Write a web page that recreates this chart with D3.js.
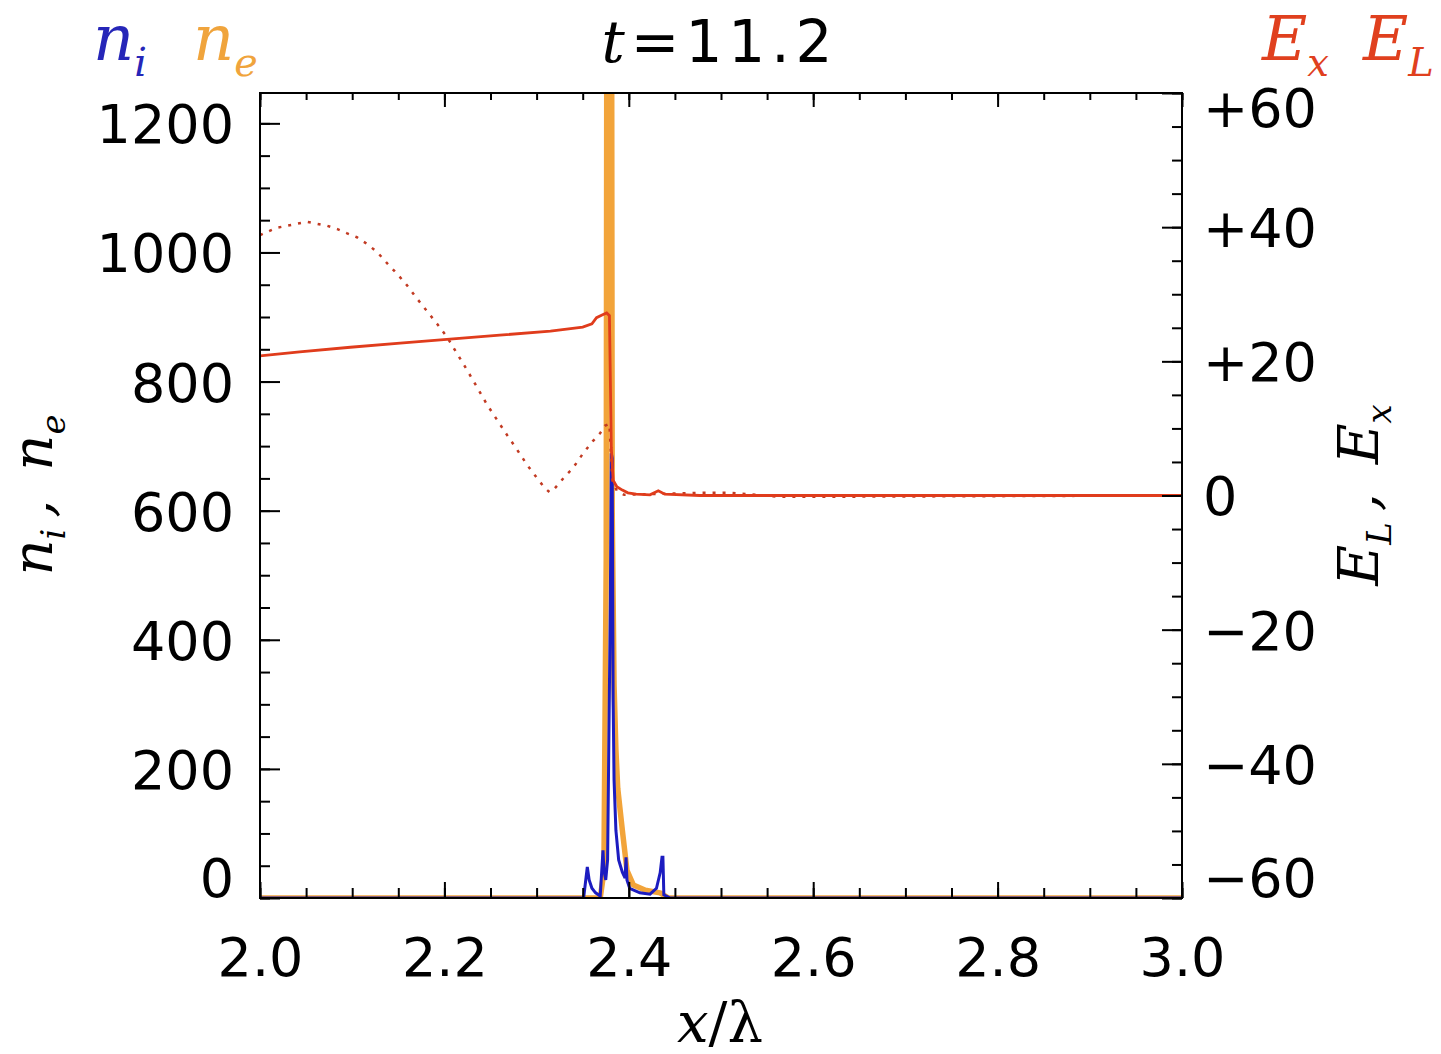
<!DOCTYPE html>
<html><head><meta charset="utf-8">
<script src="https://cdn.jsdelivr.net/npm/d3@7"></script>
<style>
body{margin:0;background:#fff;}
svg{display:block;}
.num{font-family:"DejaVu Sans",sans-serif;font-size:54px;fill:#000;}
.mi{font-family:"DejaVu Serif",serif;font-style:italic;}
</style></head>
<body>
<script>
// ---- data ----
const xDomain = [2.0, 3.0];
const nDomain = [0, 1247];
const eDomain = [-60, 60];
const xTicks = [2.0, 2.2, 2.4, 2.6, 2.8, 3.0];
const nTicks = [0, 200, 400, 600, 800, 1000, 1200];
const eTicks = [-60, -40, -20, 0, 20, 40, 60];
const eTickLabels = ["\u221260", "\u221240", "\u221220", "0", "+20", "+40", "+60"];

// E_x (solid)
const exX = [2.000,2.043,2.098,2.152,2.206,2.260,2.315,2.350,2.360,2.365,2.371,2.376,2.379,2.380,2.381,2.383,2.387,2.393,2.399,2.408,2.423,2.432,2.439,2.477,3.000];
const exV = [20.8,21.4,22.1,22.7,23.3,23.9,24.5,25.1,25.6,26.5,26.9,27.2,26.8,17.2,7.2,2.3,1.3,0.8,0.4,0.2,0.1,0.7,0.2,0,0];

// E_L (dotted)
const elX = [2.000,2.008,2.018,2.029,2.040,2.051,2.062,2.073,2.084,2.094,2.105,2.116,2.127,2.138,2.149,2.159,2.170,2.181,2.192,2.203,2.214,2.225,2.236,2.246,2.257,2.268,2.279,2.290,2.301,2.309,2.314,2.318,2.325,2.331,2.339,2.344,2.350,2.361,2.369,2.374,2.379,2.382,2.387,2.395,2.423,2.477,2.510,2.564,2.586,3.000];
const elV = [38.8,39.3,39.9,40.2,40.5,40.8,40.5,40.2,39.7,39.1,38.5,37.5,36.3,34.6,33.0,31.4,29.4,27.5,25.6,23.6,21.1,18.6,16.0,13.6,11.3,9.0,6.8,4.5,2.5,1.1,0.5,0.8,1.9,2.9,4.0,5.0,6.2,8.1,9.3,10.4,10.7,2.3,0.7,0.1,0.2,0.4,0.4,-0.2,-0.2,0];

// n_e (orange)
const neX = [2.000,2.369,2.373,2.3755,2.377,2.3805,2.382,2.384,2.386,2.388,2.393,2.398,2.405,2.418,2.434,2.443,3.000];
const neV = [0,0,40,523,2500,2500,600,330,230,170,105,43,20,12,8,0,0];

// n_i (blue)
const niX = [2.000,2.351,2.355,2.357,2.360,2.364,2.369,2.372,2.373,2.375,2.377,2.380,2.381,2.382,2.383,2.384,2.386,2.389,2.393,2.396,2.397,2.398,2.401,2.412,2.423,2.430,2.434,2.436,2.437,2.438,2.445,3.000];
const niV = [0,0,48,28,15,8,3,74,43,28,59,461,689,681,307,183,105,59,40,31,63,28,15,8,6,15,39,63,63,5,0,0];

// ---- layout ----
const W = 1441, H = 1054;
const L = 260, R = 1182, T = 93, B = 898;

const svg = d3.select("body").append("svg").attr("width", W).attr("height", H);

const x = d3.scaleLinear().domain(xDomain).range([L, R]);
const yN = d3.scaleLinear().domain(nDomain).range([B, T]);
const yE = d3.scaleLinear().domain(eDomain).range([B, T]);

svg.append("defs").append("clipPath").attr("id", "clip")
  .append("rect").attr("x", L).attr("y", T).attr("width", R - L).attr("height", B - T);

const plot = svg.append("g").attr("clip-path", "url(#clip)");

const lineN = d3.line().x(d => x(d[0])).y(d => yN(d[1]));
const lineE = d3.line().x(d => x(d[0])).y(d => yE(d[1]));

plot.append("path").datum(d3.zip(neX, neV)).attr("d", lineN)
  .attr("fill", "none").attr("stroke", "#f2a43a").attr("stroke-width", 5.5).attr("stroke-linejoin", "round");
plot.append("path").datum(d3.zip(niX, niV)).attr("d", lineN)
  .attr("fill", "none").attr("stroke", "#1c1cc0").attr("stroke-width", 3);
plot.append("path").datum(d3.zip(elX, elV)).attr("d", lineE)
  .attr("fill", "none").attr("stroke", "#c23a22").attr("stroke-width", 2.5).attr("stroke-dasharray", "3,7");
plot.append("path").datum(d3.zip(exX, exV)).attr("d", lineE)
  .attr("fill", "none").attr("stroke", "#e03c1c").attr("stroke-width", 2.8);

// ---- axes ----
function minorTicks(lo, hi, step) { const a = []; for (let v = lo; v <= hi + 1e-9; v += step) a.push(+v.toFixed(4)); return a; }
const xMinor = minorTicks(2.0, 3.0, 0.05);
const nMinor = minorTicks(0, 1200, 50);
const eMinor = minorTicks(-60, 60, 5);

function styleAxis(g) { g.select(".domain").remove(); g.selectAll("line").attr("stroke", "#000").attr("stroke-width", 2); }

// bottom
svg.append("g").attr("transform", `translate(0,${B})`)
  .call(d3.axisBottom(x).tickValues(xMinor).tickSize(-10).tickFormat("")).call(styleAxis);
const gxb = svg.append("g").attr("transform", `translate(0,${B})`)
  .call(d3.axisBottom(x).tickValues(xTicks).tickSize(-16).tickPadding(40).tickFormat(d3.format(".1f"))).call(styleAxis);
gxb.selectAll("text").attr("class", "num").attr("font-size", null).attr("font-family", null);
// top
svg.append("g").attr("transform", `translate(0,${T})`)
  .call(d3.axisTop(x).tickValues(xMinor).tickSize(-7).tickFormat("")).call(styleAxis);
svg.append("g").attr("transform", `translate(0,${T})`)
  .call(d3.axisTop(x).tickValues(xTicks).tickSize(-14).tickFormat("")).call(styleAxis);
// left
svg.append("g").attr("transform", `translate(${L},0)`)
  .call(d3.axisLeft(yN).tickValues(nMinor).tickSize(-10).tickFormat("")).call(styleAxis);
const gyl = svg.append("g").attr("transform", `translate(${L},0)`)
  .call(d3.axisLeft(yN).tickValues(nTicks).tickSize(-20).tickPadding(26).tickFormat(d3.format("d"))).call(styleAxis);
gyl.selectAll("text").attr("class", "num").attr("font-size", null).attr("font-family", null)
  .attr("dy", d => d === 0 ? "-0.02em" : "0.36em");
// right
svg.append("g").attr("transform", `translate(${R},0)`)
  .call(d3.axisRight(yE).tickValues(eMinor).tickSize(-10).tickFormat("")).call(styleAxis);
const gyr = svg.append("g").attr("transform", `translate(${R},0)`)
  .call(d3.axisRight(yE).tickValues(eTicks).tickSize(-20).tickPadding(21).tickFormat((d, i) => eTickLabels[i])).call(styleAxis);
gyr.selectAll("text").attr("class", "num").attr("font-size", null).attr("font-family", null)
  .attr("dy", d => d === 60 ? "0.62em" : d === -60 ? "-0.02em" : "0.36em");

// frame
svg.append("rect").attr("x", L).attr("y", T).attr("width", R - L).attr("height", B - T)
  .attr("fill", "none").attr("stroke", "#000").attr("stroke-width", 2);

// ---- texts ----
const title = svg.append("text").attr("x", 720).attr("y", 62).attr("text-anchor", "middle")
  .attr("font-family", "DejaVu Sans").attr("font-size", 58).attr("letter-spacing", 6).attr("fill", "#000");
title.append("tspan").attr("class", "mi").text("t");
title.append("tspan").text("=11.2");

function sub(g, x0, y0, base, s, color, size) {
  const t = g.append("text").attr("x", x0).attr("y", y0).attr("fill", color)
    .attr("font-family", "DejaVu Serif").attr("font-style", "italic").attr("font-size", size);
  t.append("tspan").text(base);
  t.append("tspan").attr("font-size", size * 0.62).attr("dy", size * 0.25).text(s);
  return t;
}
sub(svg, 93, 60, "n", "i", "#2626b8", 64);
sub(svg, 193, 60, "n", "e", "#f0a43c", 64);
sub(svg, 1262, 60, "E", "x", "#e0401e", 62);
sub(svg, 1363, 60, "E", "L", "#e0401e", 62);

const lt = svg.append("text").attr("transform", "translate(52,495) rotate(-90)").attr("text-anchor", "middle")
  .attr("font-family", "DejaVu Serif").attr("font-style", "italic").attr("font-size", 56).attr("fill", "#000");
lt.append("tspan").text("n");
lt.append("tspan").attr("font-size", 34).attr("dy", 13).text("i");
lt.append("tspan").attr("dy", -13).text("\u2009,\u2009 n");
lt.append("tspan").attr("font-size", 34).attr("dy", 13).text("e");

const rt = svg.append("text").attr("transform", "translate(1378,495) rotate(-90)").attr("text-anchor", "middle")
  .attr("font-family", "DejaVu Serif").attr("font-style", "italic").attr("font-size", 56).attr("fill", "#000");
rt.append("tspan").text("E");
rt.append("tspan").attr("font-size", 34).attr("dy", 13).text("L");
rt.append("tspan").attr("dy", -13).text("\u2009,\u2009 E");
rt.append("tspan").attr("font-size", 34).attr("dy", 13).text("x");

const xt = svg.append("text").attr("x", 720).attr("y", 1042).attr("text-anchor", "middle")
  .attr("font-family", "DejaVu Serif").attr("font-size", 56).attr("fill", "#000");
xt.append("tspan").attr("font-style", "italic").text("x");
xt.append("tspan").text("/\u03bb");
</script>
</body></html>
